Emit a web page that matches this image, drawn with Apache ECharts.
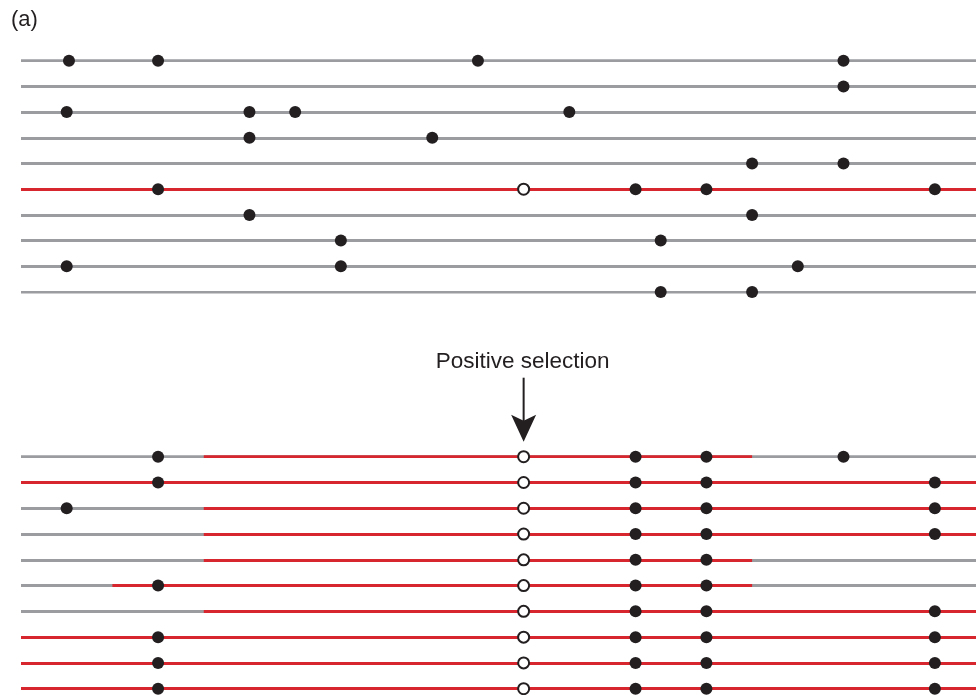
<!DOCTYPE html>
<html>
<head>
<meta charset="utf-8">
<script src="https://cdn.jsdelivr.net/npm/echarts@6/dist/echarts.min.js"></script>
<style>
  html, body { margin: 0; padding: 0; background: #ffffff; }
  #chart { width: 976px; height: 695px; }
</style>
</head>
<body>
<div id="chart"></div>
<script>
// Sequence coordinate runs from 0 (left end of every haplotype) to the right edge.
const seqStart = 0;
const seqEnd = 20.9;

// Derived mutations (site positions) on each of the ten haplotypes before selection.
const topSites = [
  [1.05, 3, 10, 18],
  [18],
  [1, 5, 6, 12],
  [5, 9],
  [16, 18],
  [3, 13.45, 15, 20],
  [5, 16],
  [7, 14],
  [1, 7, 17],
  [14, 16]
];
// Haplotype that carries the advantageous allele.
const topFavouredRow = 5;

// Site of the beneficial mutation (open circle).
const selectedSite = 11;

// Haplotypes after the sweep: derived sites ...
const bottomSites = [
  [3, 13.45, 15, 18],
  [3, 13.45, 15, 20],
  [1, 13.45, 15, 20],
  [13.45, 15, 20],
  [13.45, 15],
  [3, 13.45, 15],
  [13.45, 15, 20],
  [3, 13.45, 15, 20],
  [3, 13.45, 15, 20],
  [3, 13.45, 15, 20]
];
// ... and the stretch inherited from the favoured haplotype on each one.
const bottomRedSpans = [
  [4, 16],
  [0, 20.9],
  [4, 20.9],
  [4, 20.9],
  [4, 16],
  [2, 16],
  [4, 20.9],
  [0, 20.9],
  [0, 20.9],
  [0, 20.9]
];

const panelLabel = '(a)';
const arrowLabel = 'Positive selection';

const GREY = '#9b9ca0';
const RED = '#d7262d';
const INK = '#231f20';
const LINE_W = 2.8;

function haplotypeLines(rows, redOf) {
  const out = [];
  rows.forEach(function (_, r) {
    out.push({ coords: [[seqStart, r], [seqEnd, r]], lineStyle: { color: GREY } });
    const span = redOf(r);
    if (span) {
      out.push({ coords: [[span[0], r], [span[1], r]], lineStyle: { color: RED } });
    }
  });
  return out;
}

function siteDots(rows) {
  const out = [];
  rows.forEach(function (sites, r) {
    sites.forEach(function (s) { out.push([s, r]); });
  });
  return out;
}

function selectedDots(rowIdx) {
  return rowIdx.map(function (r) { return [selectedSite, r]; });
}

const topLines = haplotypeLines(topSites, function (r) {
  return r === topFavouredRow ? [seqStart, seqEnd] : null;
});
const bottomLines = haplotypeLines(bottomSites, function (r) {
  return bottomRedSpans[r];
});

const chart = echarts.init(document.getElementById('chart'), null, { renderer: 'canvas' });

function hiddenX(idx) {
  return { type: 'value', gridIndex: idx, min: seqStart, max: seqEnd, show: false };
}
function hiddenY(idx) {
  return { type: 'value', gridIndex: idx, min: 0, max: 9, inverse: true, show: false };
}

function linesSeries(idx, data) {
  return {
    type: 'lines',
    coordinateSystem: 'cartesian2d',
    xAxisIndex: idx,
    yAxisIndex: idx,
    polyline: false,
    silent: true,
    z: 1,
    lineStyle: { width: LINE_W, opacity: 1, curveness: 0 },
    data: data
  };
}
function filledSeries(idx, data) {
  return {
    type: 'scatter',
    xAxisIndex: idx,
    yAxisIndex: idx,
    symbol: 'circle',
    symbolSize: 12,
    clip: false,
    silent: true,
    z: 3,
    itemStyle: { color: INK, opacity: 1 },
    data: data
  };
}
function openSeries(idx, data) {
  return {
    type: 'scatter',
    xAxisIndex: idx,
    yAxisIndex: idx,
    symbol: 'circle',
    symbolSize: 11,
    clip: false,
    silent: true,
    z: 4,
    itemStyle: { color: '#ffffff', borderColor: INK, borderWidth: 2, opacity: 1 },
    data: data
  };
}

chart.setOption({
  animation: false,
  backgroundColor: '#ffffff',
  grid: [
    { left: 21, right: 0, top: 60.7, height: 231.3 },
    { left: 21, right: 0, top: 456.7, height: 232 }
  ],
  xAxis: [hiddenX(0), hiddenX(1)],
  yAxis: [hiddenY(0), hiddenY(1)],
  series: [
    linesSeries(0, topLines),
    filledSeries(0, siteDots(topSites)),
    openSeries(0, selectedDots([topFavouredRow])),
    linesSeries(1, bottomLines),
    filledSeries(1, siteDots(bottomSites)),
    openSeries(1, selectedDots(bottomSites.map(function (_, r) { return r; })))
  ]
});

// Annotation: panel label and the arrow pointing at the selected site.
const tip = chart.convertToPixel({ xAxisIndex: 1, yAxisIndex: 1 }, [selectedSite, 0]);
const ax = tip[0];
const tipY = tip[1] - 15;

chart.setOption({
  graphic: [
    {
      type: 'text',
      left: 11,
      top: 9,
      style: { text: panelLabel, font: '22px "Liberation Sans", Arial, sans-serif', fill: INK }
    },
    {
      type: 'text',
      x: ax - 1,
      y: tip[1] - 95,
      style: {
        text: arrowLabel,
        font: '22.5px "Liberation Sans", Arial, sans-serif',
        fill: INK,
        align: 'center',
        verticalAlign: 'middle'
      }
    },
    {
      type: 'line',
      shape: { x1: ax, y1: tipY - 64, x2: ax, y2: tipY - 20 },
      style: { stroke: INK, lineWidth: 2 }
    },
    {
      type: 'polygon',
      shape: {
        points: [
          [ax - 12.5, tipY - 27],
          [ax, tipY - 21],
          [ax + 12.5, tipY - 27],
          [ax, tipY]
        ]
      },
      style: { fill: INK }
    }
  ]
});
</script>
</body>
</html>
